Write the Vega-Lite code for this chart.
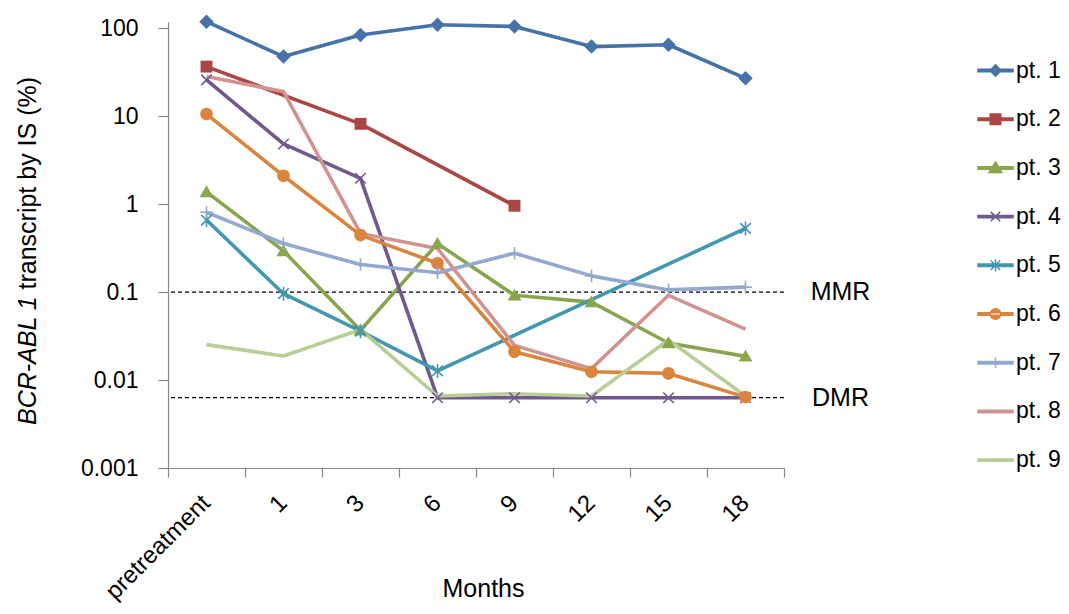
{
  "$schema": "https://vega.github.io/schema/vega-lite/v6.json",
  "width": 616,
  "height": 446,
  "autosize": {"type": "none"},
  "padding": {"left": 168, "top": 22, "right": 285, "bottom": 146},
  "background": "white",
  "config": {
    "view": {"stroke": null},
    "font": "Liberation Sans",
    "axis": {"grid": false, "domainColor": "#868686", "tickColor": "#868686", "labelColor": "#000", "titleColor": "#000", "labelFont": "Liberation Sans", "titleFont": "Liberation Sans"},
    "legend": {
      "title": null, "orient": "none", "legendX": 809, "legendY": 30,
      "symbolSize": 1225, "symbolStrokeWidth": 1.5, "symbolOpacity": 1,
      "labelFontSize": 23, "labelFont": "Liberation Sans", "labelColor": "#000", "labelOffset": 2, "rowPadding": 17.7
    }
  },
  "title": {
    "text": "BCR-ABL 1",
    "orient": "left",
    "anchor": "start",
    "frame": "group",
    "fontStyle": "italic",
    "fontWeight": "normal",
    "fontSize": 25,
    "font": "Liberation Sans",
    "color": "#000",
    "baseline": "middle",
    "offset": 0,
    "dx": 43,
    "dy": 38
  },
  "datasets": {
    "series": [
      {"pt": "pt. 1", "m": "pretreatment", "v": 119},
      {"pt": "pt. 1", "m": "1", "v": 47.7},
      {"pt": "pt. 1", "m": "3", "v": 84},
      {"pt": "pt. 1", "m": "6", "v": 110},
      {"pt": "pt. 1", "m": "9", "v": 105},
      {"pt": "pt. 1", "m": "12", "v": 62},
      {"pt": "pt. 1", "m": "15", "v": 65},
      {"pt": "pt. 1", "m": "18", "v": 27},
      {"pt": "pt. 2", "m": "pretreatment", "v": 36.7},
      {"pt": "pt. 2", "m": "3", "v": 8.2},
      {"pt": "pt. 2", "m": "9", "v": 0.96},
      {"pt": "pt. 3", "m": "pretreatment", "v": 1.38},
      {"pt": "pt. 3", "m": "1", "v": 0.294},
      {"pt": "pt. 3", "m": "3", "v": 0.0368},
      {"pt": "pt. 3", "m": "6", "v": 0.357},
      {"pt": "pt. 3", "m": "9", "v": 0.092},
      {"pt": "pt. 3", "m": "12", "v": 0.077},
      {"pt": "pt. 3", "m": "15", "v": 0.0264},
      {"pt": "pt. 3", "m": "18", "v": 0.0186},
      {"pt": "pt. 4", "m": "pretreatment", "v": 25.9},
      {"pt": "pt. 4", "m": "1", "v": 4.84},
      {"pt": "pt. 4", "m": "3", "v": 1.97},
      {"pt": "pt. 4", "m": "6", "v": 0.0063},
      {"pt": "pt. 4", "m": "9", "v": 0.0063},
      {"pt": "pt. 4", "m": "12", "v": 0.0063},
      {"pt": "pt. 4", "m": "15", "v": 0.0063},
      {"pt": "pt. 4", "m": "18", "v": 0.0063},
      {"pt": "pt. 5", "m": "pretreatment", "v": 0.66},
      {"pt": "pt. 5", "m": "1", "v": 0.096},
      {"pt": "pt. 5", "m": "3", "v": 0.036},
      {"pt": "pt. 5", "m": "6", "v": 0.0127},
      {"pt": "pt. 5", "m": "18", "v": 0.53},
      {"pt": "pt. 6", "m": "pretreatment", "v": 10.6},
      {"pt": "pt. 6", "m": "1", "v": 2.1},
      {"pt": "pt. 6", "m": "3", "v": 0.445},
      {"pt": "pt. 6", "m": "6", "v": 0.213},
      {"pt": "pt. 6", "m": "9", "v": 0.021},
      {"pt": "pt. 6", "m": "12", "v": 0.01245},
      {"pt": "pt. 6", "m": "15", "v": 0.0119},
      {"pt": "pt. 6", "m": "18", "v": 0.0064},
      {"pt": "pt. 7", "m": "pretreatment", "v": 0.81},
      {"pt": "pt. 7", "m": "1", "v": 0.357},
      {"pt": "pt. 7", "m": "3", "v": 0.206},
      {"pt": "pt. 7", "m": "6", "v": 0.166},
      {"pt": "pt. 7", "m": "9", "v": 0.277},
      {"pt": "pt. 7", "m": "12", "v": 0.153},
      {"pt": "pt. 7", "m": "15", "v": 0.106},
      {"pt": "pt. 7", "m": "18", "v": 0.114},
      {"pt": "pt. 8", "m": "pretreatment", "v": 28.3},
      {"pt": "pt. 8", "m": "1", "v": 19.1},
      {"pt": "pt. 8", "m": "3", "v": 0.465},
      {"pt": "pt. 8", "m": "6", "v": 0.314},
      {"pt": "pt. 8", "m": "9", "v": 0.0248},
      {"pt": "pt. 8", "m": "12", "v": 0.0135},
      {"pt": "pt. 8", "m": "15", "v": 0.092},
      {"pt": "pt. 8", "m": "18", "v": 0.0379},
      {"pt": "pt. 9", "m": "pretreatment", "v": 0.0253},
      {"pt": "pt. 9", "m": "1", "v": 0.0188},
      {"pt": "pt. 9", "m": "3", "v": 0.0375},
      {"pt": "pt. 9", "m": "6", "v": 0.00658},
      {"pt": "pt. 9", "m": "9", "v": 0.007},
      {"pt": "pt. 9", "m": "12", "v": 0.0066},
      {"pt": "pt. 9", "m": "15", "v": 0.0285},
      {"pt": "pt. 9", "m": "18", "v": 0.0066}
    ],
    "refs": [
      {"ref": "MMR", "v": 0.1},
      {"ref": "DMR", "v": 0.0063}
    ]
  },
  "layer": [
    {
      "data": {"name": "refs"},
      "mark": {"type": "rule", "strokeDash": [4, 3], "color": "#000", "strokeWidth": 1.3},
      "encoding": {
        "y": {"field": "v", "type": "quantitative", "scale": {"type": "log", "domain": [0.001, 118], "nice": false}}
      }
    },
    {
      "data": {"name": "refs"},
      "mark": {"type": "text", "fontSize": 25, "font": "Liberation Sans", "color": "#000", "align": "center", "baseline": "middle", "dx": 95},
      "encoding": {
        "x": {"datum": "18", "type": "ordinal", "scale": {"type": "band", "domain": ["pretreatment", "1", "3", "6", "9", "12", "15", "18"], "paddingInner": 0, "paddingOuter": 0}},
        "y": {"field": "v", "type": "quantitative", "scale": {"type": "log", "domain": [0.001, 118], "nice": false}},
        "text": {"field": "ref"}
      }
    },
    {
      "data": {"name": "series"},
      "mark": {"type": "line", "strokeWidth": 3.6, "strokeJoin": "round"},
      "encoding": {
        "x": {
          "field": "m", "type": "ordinal",
          "scale": {"type": "band", "domain": ["pretreatment", "1", "3", "6", "9", "12", "15", "18"], "paddingInner": 0, "paddingOuter": 0},
          "axis": {
            "title": "Months", "titleFontSize": 25, "titleFontWeight": "normal", "titleX": 315, "titleY": 120, "titleBaseline": "middle",
            "labelAngle": -45, "labelAlign": "right", "labelBaseline": "middle", "labelFontSize": 24, "labelPadding": 22,
            "tickSize": 9, "bandPosition": 1, "tickExtra": true, "domainWidth": 1.2, "tickWidth": 1.2
          }
        },
        "y": {
          "field": "v", "type": "quantitative",
          "scale": {"type": "log", "domain": [0.001, 118], "nice": false},
          "axis": {
            "title": "transcript by IS (%)", "titleFontSize": 25, "titleFontWeight": "normal", "titleAngle": -90, "titleAlign": "left", "titleBaseline": "middle", "titleX": -141, "titleY": 267,
            "values": [0.001, 0.01, 0.1, 1, 10, 100], "format": "~g", "labelFontSize": 23, "labelPadding": 20, "tickSize": 10, "domainWidth": 1.2, "tickWidth": 1.2
          }
        },
        "color": {
          "field": "pt", "type": "nominal",
          "scale": {
            "domain": ["pt. 1", "pt. 2", "pt. 3", "pt. 4", "pt. 5", "pt. 6", "pt. 7", "pt. 8", "pt. 9"],
            "range": ["#4572A7", "#AA4643", "#89A54E", "#71588F", "#4198AF", "#DB843D", "#93A9CF", "#D19392", "#B9CD96"]
          }
        }
      }
    },
    {
      "data": {"name": "series"},
      "encoding": {
        "x": {"field": "m", "type": "ordinal", "scale": {"type": "band", "domain": ["pretreatment", "1", "3", "6", "9", "12", "15", "18"], "paddingInner": 0, "paddingOuter": 0}},
        "y": {"field": "v", "type": "quantitative", "scale": {"type": "log", "domain": [0.001, 118], "nice": false}},
        "color": {"field": "pt", "type": "nominal"}
      },
      "layer": [
        {"transform": [{"filter": "datum.pt == 'pt. 1'"}], "mark": {"type": "point", "filled": true, "opacity": 1, "size": 210, "shape": "M0,-1L1,0L0,1L-1,0Z"}},
        {"transform": [{"filter": "datum.pt == 'pt. 2'"}], "mark": {"type": "point", "filled": true, "opacity": 1, "size": 196, "shape": "M-0.85,-0.85H0.85V0.85H-0.85Z"}},
        {"transform": [{"filter": "datum.pt == 'pt. 3'"}], "mark": {"type": "point", "filled": true, "opacity": 1, "size": 196, "shape": "M0,-0.95L1,0.75L-1,0.75Z"}},
        {"transform": [{"filter": "datum.pt == 'pt. 4'"}], "mark": {"type": "point", "filled": false, "opacity": 1, "size": 196, "strokeWidth": 1.6, "shape": "M-0.75,-0.75L0.75,0.75M-0.75,0.75L0.75,-0.75"}},
        {"transform": [{"filter": "datum.pt == 'pt. 5'"}], "mark": {"type": "point", "filled": false, "opacity": 1, "size": 196, "strokeWidth": 1.6, "shape": "M-0.75,-0.75L0.75,0.75M-0.75,0.75L0.75,-0.75M0,-1V1"}},
        {"transform": [{"filter": "datum.pt == 'pt. 6'"}], "mark": {"type": "point", "filled": true, "opacity": 1, "size": 196, "shape": "M-0.9,0A0.9,0.9,0,1,0,0.9,0A0.9,0.9,0,1,0,-0.9,0Z"}},
        {"transform": [{"filter": "datum.pt == 'pt. 7'"}], "mark": {"type": "point", "filled": false, "opacity": 1, "size": 196, "strokeWidth": 1.6, "shape": "M0,-0.9V0.9M-0.9,0H0.9"}}
      ]
    },
    {
      "data": {"name": "series"},
      "mark": {"type": "point", "filled": true, "size": 0, "strokeWidth": 1.5, "opacity": 1},
      "encoding": {
        "x": {"field": "m", "type": "ordinal", "scale": {"type": "band", "domain": ["pretreatment", "1", "3", "6", "9", "12", "15", "18"], "paddingInner": 0, "paddingOuter": 0}},
        "y": {"field": "v", "type": "quantitative", "scale": {"type": "log", "domain": [0.001, 118], "nice": false}},
        "color": {"field": "pt", "type": "nominal"},
        "stroke": {
          "field": "pt", "type": "nominal",
          "scale": {
            "domain": ["pt. 1", "pt. 2", "pt. 3", "pt. 4", "pt. 5", "pt. 6", "pt. 7", "pt. 8", "pt. 9"],
            "range": ["#4572A7", "#AA4643", "#89A54E", "#71588F", "#4198AF", "#DB843D", "#93A9CF", "#D19392", "#B9CD96"]
          }
        },
        "shape": {
          "field": "pt", "type": "nominal",
          "scale": {
            "domain": ["pt. 1", "pt. 2", "pt. 3", "pt. 4", "pt. 5", "pt. 6", "pt. 7", "pt. 8", "pt. 9"],
            "range": [
              "M-1,-0.07H1V0.07H-1ZM0,-0.32L0.32,0L0,0.32L-0.32,0Z",
              "M-1,-0.07H1V0.07H-1ZM-0.3,-0.3H0.3V0.3H-0.3Z",
              "M-1,-0.07H1V0.07H-1ZM0,-0.34L0.37,0.26L-0.37,0.26Z",
              "M-1,-0.07H1V0.07H-1ZM-0.27,-0.27L0.27,0.27M-0.27,0.27L0.27,-0.27",
              "M-1,-0.07H1V0.07H-1ZM-0.27,-0.27L0.27,0.27M-0.27,0.27L0.27,-0.27M0,-0.35V0.35",
              "M-1,-0.07H1V0.07H-1ZM-0.3,0A0.3,0.3,0,1,0,0.3,0A0.3,0.3,0,1,0,-0.3,0Z",
              "M-1,-0.07H1V0.07H-1ZM0,-0.3V0.3",
              "M-1,-0.07H1V0.07H-1Z",
              "M-1,-0.07H1V0.07H-1Z"
            ]
          }
        }
      }
    }
  ]
}
